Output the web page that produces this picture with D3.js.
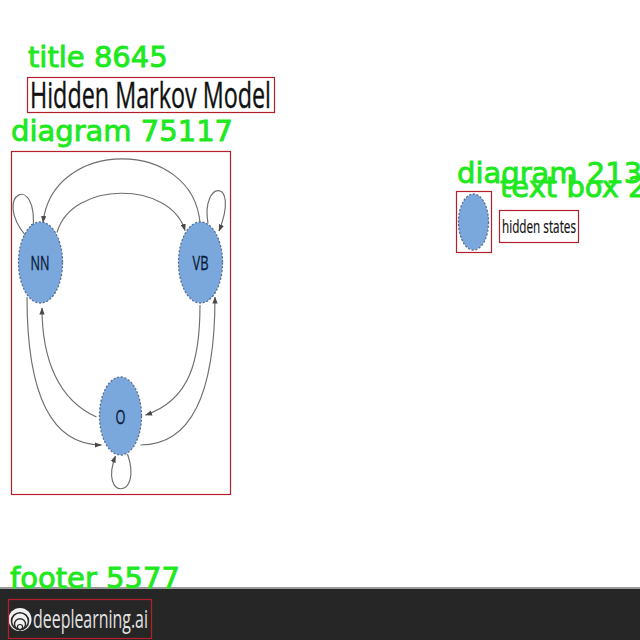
<!DOCTYPE html>
<html><head><meta charset="utf-8">
<script src="https://cdn.jsdelivr.net/npm/d3@7/dist/d3.min.js"></script>
<style>html,body{margin:0;padding:0;background:#fff;overflow:hidden}svg{display:block}</style>
</head><body>
<script>
// ---- data ----
const titleText = "Hidden Markov Model";
const states = ["NN", "VB", "O"];
const stateCol = [0, 2, 1];
const stateRow = [0, 0, 1];
const transitions = [["NN","NN"],["VB","NN"],["NN","VB"],["VB","VB"],["NN","O"],["O","NN"],["VB","O"],["O","VB"],["O","O"]];
const legendLabels = ["hidden states"];
const footerText = "deeplearning.ai";
const regionNames = ["title", "diagram", "diagram", "text box", "footer"];
const regionAreas = [8645, 75117, 2135, 2528, 5577];

const W = 640, H = 640;
const svg = d3.select("body").append("svg").attr("width", W).attr("height", H);

// footer band
svg.append("rect").attr("x",0).attr("y",587).attr("width",W).attr("height",3).attr("fill","#9a9a9a");
svg.append("rect").attr("x",0).attr("y",589).attr("width",W).attr("height",51).attr("fill","#262626");

// title
svg.append("text").attr("x",30).attr("y",107.5).attr("font-family","'Liberation Sans Narrow','Open Sans',sans-serif")
  .attr("font-size",37).attr("fill","#111").attr("stroke","#111").attr("stroke-width",0.4)
  .attr("textLength",241).attr("lengthAdjust","spacingAndGlyphs").text(titleText);

// scales for node layout
const x = d3.scalePoint().domain([0,1,2]).range([40.5, 200.5]);
const y = d3.scalePoint().domain([0,1]).range([262.5, 416]);
const nodes = states.map((s,i)=>({id:s, cx:x(stateCol[i]), cy:y(stateRow[i])}));
const byId = Object.fromEntries(nodes.map(n=>[n.id,n]));

const defs = svg.append("defs");
defs.append("marker").attr("id","arr").attr("viewBox","0 0 8 6").attr("refX",7.5).attr("refY",3)
  .attr("markerWidth",7).attr("markerHeight",5.5).attr("markerUnits","userSpaceOnUse").attr("orient","auto")
  .append("path").attr("d","M0,0L8,3L0,6Z").attr("fill","#4a4a4a");

function rel(n, pts){ return pts.map(p=>[n.cx+p[0], n.cy+p[1]]); }
function edgeGeom(s, t){
  const a = byId[s], b = byId[t];
  if (s===t){
    if (s==="NN") return rel(a, [[-15,-27],[-49,-68],[-2,-92],[-7.5,-32]]);
    if (s==="VB") return rel(a, [[7.5,-39],[0,-83],[40,-85],[18.5,-31.5]]);
    return rel(a, [[7,38],[23,84],[-22,84],[-5,40]]);
  }
  if (s==="VB" && t==="NN") return [[a.cx-0.5,a.cy-39.5],[a.cx-8,a.cy-125],[b.cx+12,b.cy-125],[b.cx+2.5,b.cy-40]];
  if (s==="NN" && t==="VB") return [[a.cx+16.5,a.cy-30],[a.cx+31,a.cy-82],[b.cx-30,b.cy-82],[b.cx-15.5,b.cy-32]];
  if (s==="NN" && t==="O") return [[a.cx-13.5,a.cy+34.5],[a.cx-13.5,a.cy+137],[b.cx-67,b.cy+29],[b.cx-19,b.cy+29]];
  if (s==="O" && t==="NN") return [[a.cx-24,a.cy+1],[a.cx-62,a.cy-16],[b.cx+1.5,b.cy+97],[b.cx+1.5,b.cy+45.5]];
  if (s==="VB" && t==="O") return [[a.cx-0.5,a.cy+42.5],[a.cx-0.5,a.cy+97],[b.cx+70,b.cy-16],[b.cx+25,b.cy-1]];
  if (s==="O" && t==="VB") return [[a.cx+20,a.cy+29],[a.cx+68,a.cy+29],[b.cx+14.5,b.cy+137],[b.cx+14.5,b.cy+34.5]];
}
const gEdges = svg.append("g");
transitions.forEach(([s,t])=>{
  const p = edgeGeom(s,t);
  gEdges.append("path").attr("d",`M${p[0]}C${p[1]} ${p[2]} ${p[3]}`)
    .attr("fill","none").attr("stroke","#6e6e6e").attr("stroke-width",1.15).attr("marker-end","url(#arr)");
});

const ellFill = "#7aa7dc", ellStroke = "#5a7194";
const gN = svg.append("g").selectAll("g").data(nodes).join("g");
gN.append("ellipse").attr("cx",d=>d.cx).attr("cy",d=>d.cy).attr("rx",d=>d.id==="O"?21:22).attr("ry",d=>d.id==="O"?39:40.5)
  .attr("fill",ellFill).attr("stroke",ellStroke).attr("stroke-width",1.3).attr("stroke-dasharray","2.2,1.6");
const lw = {NN:19, VB:16, O:10};
gN.append("text").attr("x",d=>d.cx-(d.id==="NN"?0.5:0)).attr("y",d=>d.cy+7.5).attr("text-anchor","middle")
  .attr("font-family","'Liberation Sans Narrow','Open Sans',sans-serif").attr("font-size",20).attr("fill","#0a1a36")
  .attr("stroke","#0a1a36").attr("stroke-width",0.3)
  .attr("textLength",d=>lw[d.id]).attr("lengthAdjust","spacingAndGlyphs").text(d=>d.id);

// legend
svg.append("ellipse").attr("cx",473.5).attr("cy",222).attr("rx",15).attr("ry",28)
  .attr("fill",ellFill).attr("stroke",ellStroke).attr("stroke-width",1.3).attr("stroke-dasharray","2.2,1.6");
svg.append("text").attr("x",502).attr("y",232.5).attr("font-family","'Liberation Sans Narrow','Open Sans',sans-serif")
  .attr("font-size",18).attr("fill","#111").attr("stroke","#111").attr("stroke-width",0.2)
  .attr("textLength",74).attr("lengthAdjust","spacingAndGlyphs").text(legendLabels[0]);

// footer logo + text
const lg = svg.append("g");
lg.append("circle").attr("cx",20).attr("cy",619.5).attr("r",11.5).attr("fill","#f2f2f2");
[[8.5,1.6],[5.5,1.4],[2.6,1.2]].forEach(([r,sw])=>{
  lg.append("circle").attr("cx",20).attr("cy",630.5-r-0.8).attr("r",r).attr("fill","none").attr("stroke","#2a2a2a").attr("stroke-width",sw);
});
svg.append("text").attr("x",33).attr("y",628).attr("font-family","'Liberation Sans Narrow','Open Sans',sans-serif")
  .attr("font-size",25).attr("fill","#e2e2e2").attr("textLength",115).attr("lengthAdjust","spacingAndGlyphs").text(footerText);

// annotation overlay boxes
const boxes = [[27,77,247,35],[11,151,219,343],[456,191,35,61],[499,210,79,32],[8,599,143,39]];
const labelPos = [[28,67],[11,141],[457,183],[500,197],[10,588]];
svg.append("g").selectAll("rect").data(boxes).join("rect")
  .attr("x",d=>d[0]+0.5).attr("y",d=>d[1]+0.5).attr("width",d=>d[2]).attr("height",d=>d[3])
  .attr("fill","none").attr("stroke","#b3202a").attr("stroke-width",1.2);
svg.append("g").selectAll("text").data(regionNames).join("text")
  .attr("x",(d,i)=>labelPos[i][0]).attr("y",(d,i)=>labelPos[i][1])
  .attr("font-family","'DejaVu Sans',sans-serif").attr("font-size",29).attr("fill","#1ee81e")
  .attr("stroke","#1ee81e").attr("stroke-width",0.9)
  .text((d,i)=>`${d} ${regionAreas[i]}`);
</script>
</body></html>
